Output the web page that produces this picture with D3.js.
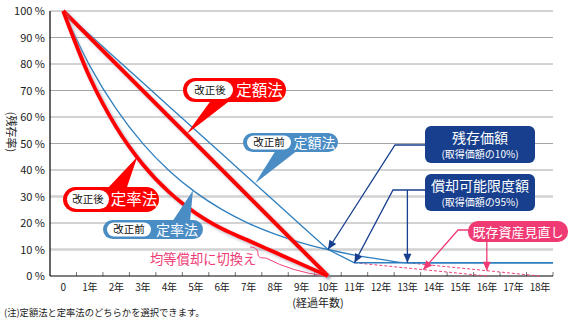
<!DOCTYPE html>
<html><head><meta charset="utf-8">
<script src="https://cdn.jsdelivr.net/npm/d3@7"></script>
<style>
html,body{margin:0;padding:0;background:#fff;}
svg{display:block;font-family:"Noto Sans CJK JP","Noto Sans",sans-serif;}
</style></head>
<body>
<svg id="c" width="585" height="324"></svg>
<script>
// ---- data ----
const years = d3.range(0, 19);               // 0 .. 18
const yTicks = [0,10,20,30,40,50,60,70,80,90,100];
const xTickLabels = ["0","1年","2年","3年","4年","5年","6年","7年","8年","9年","10年","11年","12年","13年","14年","15年","16年","17年","18年"];
// 改正後 定額法 (new straight-line, 10-year life)
const newSL = [100,90,80,70,60,50,40,30,20,10,0];
// 改正後 定率法 (new 250% declining balance, switch to even depreciation)
const newDB = [100,75,56.25,42.19,31.64,23.73,17.80,13.35,8.89,4.43,0];
// 改正前 定額法 (old straight-line to 10% residual, then 5% limit)
const oldSL = [100,91,82,73,64,55,46,37,28,19,10,5,5,5,5,5,5,5,5];
// 改正前 定率法 (old declining balance 0.206)
const oldDB = [100,79.4,63.04,50.05,39.74,31.55,25.05,19.89,15.79,12.54,10,7.9,6.3,5,5,5,5,5,5];
// 既存資産見直し (5-year even depreciation from 5%)
const reviewA = [{year:11,v:5},{year:16,v:0}];
const reviewB = [{year:13,v:5},{year:18,v:0}];
const plotEndYear = 18.5;

// ---- scales ----
const svg = d3.select("#c");
const x = d3.scaleLinear().domain([-0.5, 18.5]).range([50, 553]);
const y = d3.scaleLinear().domain([0, 100]).range([276, 11]);

const defs = svg.append("defs");
const f = defs.append("filter").attr("id","sh").attr("x","-20%").attr("y","-20%").attr("width","140%").attr("height","140%");
f.append("feDropShadow").attr("dx",2).attr("dy",2).attr("stdDeviation",1.4).attr("flood-color","#7f8fa3").attr("flood-opacity",0.55);

// gridlines
svg.append("g").selectAll("line").data(yTicks.filter(d=>d>0)).join("line")
  .attr("x1", x(-0.5)).attr("x2", x(18.5))
  .attr("y1", d=>y(d)).attr("y2", d=>y(d))
  .attr("stroke", d => (d===10||d===30) ? "#d2d2d2" : "#a6a6a6")
  .attr("stroke-width", d => (d===10||d===30) ? 2.5 : 1);

// y tick labels
svg.append("g").selectAll("text").data(yTicks).join("text")
  .attr("x", 45).attr("y", d=>y(d)+4)
  .attr("text-anchor","end").attr("font-size",11).attr("fill","#222")
  .text(d => d + " %");

// x axis ticks (band boundaries)
svg.append("g").selectAll("line").data(d3.range(0,19)).join("line")
  .attr("x1", d=>x(d+0.5)).attr("x2", d=>x(d+0.5))
  .attr("y1", y(0)).attr("y2", y(0)-4)
  .attr("stroke","#777").attr("stroke-width",1);
svg.append("g").selectAll("text").data(years).join("text")
  .attr("x", d=>x(d)).attr("y", 291)
  .attr("text-anchor","middle").attr("font-size",10).attr("letter-spacing",-0.3).attr("fill","#222")
  .text(d => xTickLabels[d]);

// axes lines
svg.append("line").attr("x1",x(-0.5)).attr("x2",x(-0.5)).attr("y1",y(100)).attr("y2",y(0)).attr("stroke","#000").attr("stroke-width",1.2);
svg.append("line").attr("x1",x(-0.5)).attr("x2",x(18.5)).attr("y1",y(0)).attr("y2",y(0)).attr("stroke","#000").attr("stroke-width",1.2);

// axis titles
svg.append("text").attr("transform",`translate(7,132) rotate(90)`)
  .attr("text-anchor","middle").attr("font-size",11).attr("fill","#222").text("(残存率)");
svg.append("text").attr("x", 318).attr("y", 307).attr("text-anchor","middle")
  .attr("font-size",11).attr("fill","#222").text("(経過年数)");
svg.append("text").attr("x", 4).attr("y", 316).attr("font-size",9.3).attr("fill","#222")
  .text("(注)定額法と定率法のどちらかを選択できます。");

// lines
const lineLin = d3.line().x((d,i)=>x(i)).y(d=>y(d));
const lineSmooth = d3.line().x((d,i)=>x(i)).y(d=>y(d)).curve(d3.curveMonotoneX);
const blue = "#2f7fbf";

// pink review dashed
const pline = d3.line().x(d=>x(d.year)).y(d=>y(d.v));
[reviewA, reviewB].forEach(r => svg.append("path").attr("d", pline(r))
  .attr("fill","none").attr("stroke","#f0407a").attr("stroke-width",1).attr("stroke-dasharray","3,2"));

// old lines (blue thin), extended flat to plot end
const extOld = arr => arr.map((v,i)=>({year:i,v})).concat([{year:plotEndYear, v:arr[arr.length-1]}]);
const oline = d3.line().x(d=>x(d.year)).y(d=>y(d.v));
const olineS = d3.line().x(d=>x(d.year)).y(d=>y(d.v)).curve(d3.curveMonotoneX);
svg.append("path").attr("d", oline(extOld(oldSL))).attr("fill","none").attr("stroke",blue).attr("stroke-width",1.3);
svg.append("path").attr("d", olineS(extOld(oldDB))).attr("fill","none").attr("stroke",blue).attr("stroke-width",1.3);

// 均等償却 leader
svg.append("path").attr("d", "M250,247 C256,247 258,250 258,254 C258,258 262,258 266,258 Q292,272 326,276")
  .attr("fill","none").attr("stroke","#f0407a").attr("stroke-width",1);

// new lines (red thick)
svg.append("path").attr("d", lineLin(newSL)).attr("fill","none").attr("stroke","#ff0000").attr("stroke-width",4).attr("filter","url(#sh)").attr("stroke-linejoin","round");
svg.append("path").attr("d", lineSmooth(newDB)).attr("fill","none").attr("stroke","#ff0000").attr("stroke-width",4).attr("filter","url(#sh)").attr("stroke-linejoin","round");

// ---- callouts ----
function callout(o){
  const g = svg.append("g");
  g.append("path").attr("d", `M${o.base[0][0]},${o.base[0][1]} L${o.tip[0]},${o.tip[1]} L${o.base[1][0]},${o.base[1][1]} Z`).attr("fill", o.color);
  g.append("rect").attr("x",o.x).attr("y",o.y).attr("width",o.w).attr("height",o.h).attr("rx",o.h/2).attr("fill",o.color);
  g.append("rect").attr("x",o.x+4).attr("y",o.y+o.pad).attr("width",o.pw).attr("height",o.h-2*o.pad).attr("rx",(o.h-2*o.pad)/2).attr("fill","#fff");
  g.append("text").attr("x",o.x+4+o.pw/2).attr("y",o.y+o.h/2+3.8).attr("text-anchor","middle").attr("font-size",10.5).attr("fill","#111").text(o.small);
  g.append("text").attr("x",o.x+8+o.pw+(o.w-o.pw-12)/2).attr("y",o.y+o.h/2+o.fs*0.36).attr("text-anchor","middle").attr("font-size",o.fs).attr("fill","#fff").text(o.big);
}
callout({x:183,y:78,w:103,h:24,pad:3,pw:46,color:"#ff0000",small:"改正後",big:"定額法",fs:15.5,
  base:[[212,99],[232,99]], tip:[x(4.65), y(53.5)]});
callout({x:63,y:187,w:96,h:25,pad:3,pw:42,color:"#ff0000",small:"改正後",big:"定率法",fs:15.5,
  base:[[106,190],[126,190]], tip:[x(2.8), y(45)]});
callout({x:243,y:133,w:95,h:19,pad:2.5,pw:44,color:"#4a8dc4",small:"改正前",big:"定額法",fs:14,
  base:[[276,150],[298,150]], tip:[x(7.25), y(35)]});
callout({x:103,y:220,w:100,h:19,pad:2.5,pw:44,color:"#4a8dc4",small:"改正前",big:"定率法",fs:14,
  base:[[172,222],[190,222]], tip:[x(4.9), y(32.3)]});

// navy boxes and arrows
const navy = "#173f8e";
function arrow(g, pts, color){
  g.append("polyline").attr("points", pts.map(p=>p.join(",")).join(" ")).attr("fill","none").attr("stroke",color).attr("stroke-width",1.3);
  const a = pts[pts.length-2], b = pts[pts.length-1];
  const ang = Math.atan2(b[1]-a[1], b[0]-a[0]);
  const L = 9, W = 4;
  const bx = b[0]-L*Math.cos(ang), by = b[1]-L*Math.sin(ang);
  const px = -Math.sin(ang)*W, py = Math.cos(ang)*W;
  g.append("path").attr("d",`M${b[0]},${b[1]} L${bx+px},${by+py} L${bx-px},${by-py} Z`).attr("fill",color);
}
const ga = svg.append("g");
arrow(ga, [[425,145],[395,145],[x(10), y(10)]], navy);
arrow(ga, [[425,190],[393,190],[x(11), y(5)]], navy);
arrow(ga, [[x(13),190],[x(13), y(5)]], navy);

function navyBox(bx, by, t1, t2){
  svg.append("rect").attr("x",bx).attr("y",by).attr("width",110).attr("height",37).attr("rx",6).attr("fill",navy);
  svg.append("text").attr("x",bx+55).attr("y",by+17).attr("text-anchor","middle").attr("font-size",14).attr("fill","#fff").text(t1);
  svg.append("text").attr("x",bx+55).attr("y",by+32).attr("text-anchor","middle").attr("font-size",10).attr("fill","#fff").text(t2);
}
navyBox(425,126,"残存価額","(取得価額の10%)");
navyBox(425,174,"償却可能限度額","(取得価額の95%)");

// pink box
const pink = "#ef3a74";
const gp = svg.append("g");
arrow(gp, [[470,230],[458,230],[x(13.6), y(2.4)]], pink);
arrow(gp, [[x(16),241],[x(16), y(2)]], pink);
svg.append("rect").attr("x",468).attr("y",221).attr("width",100).attr("height",21).attr("rx",10).attr("fill",pink);
svg.append("text").attr("x",518).attr("y",236.5).attr("text-anchor","middle").attr("font-size",13).attr("fill","#fff").text("既存資産見直し");

svg.append("text").attr("x",150).attr("y",264).attr("font-size",13.3).attr("fill","#ef3a74").text("均等償却に切換え");
</script>
</body></html>
